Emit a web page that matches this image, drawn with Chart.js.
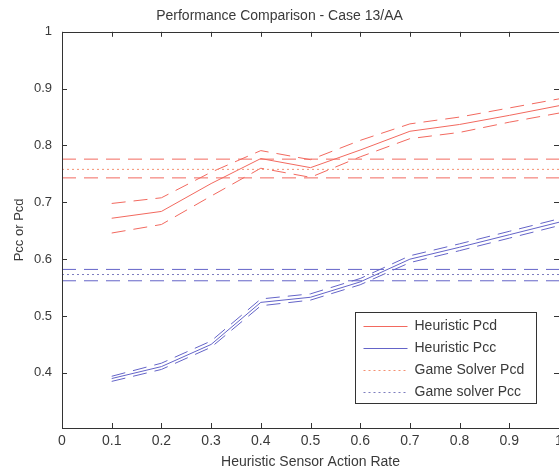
<!DOCTYPE html>
<html>
<head>
<meta charset="utf-8">
<script src="https://cdn.jsdelivr.net/npm/chart.js@4.4.0/dist/chart.umd.min.js"></script>
<style>
  body { margin: 0; background: #fff; overflow: hidden; }
  #wrap { width: 576px; height: 474px; }
</style>
</head>
<body>
<div id="wrap"><canvas id="chart"></canvas></div>
<script>
// DATOS

const rates = [0.1, 0.2, 0.3, 0.4, 0.5, 0.6, 0.7, 0.8, 0.9, 1.0];

const heurPcd      = [0.672, 0.684, 0.733, 0.777, 0.761, 0.792, 0.825, 0.837, 0.853, 0.870];
const heurPcdUpper = [0.698, 0.708, 0.753, 0.791, 0.775, 0.809, 0.838, 0.850, 0.866, 0.882];
const heurPcdLower = [0.646, 0.661, 0.711, 0.760, 0.744, 0.780, 0.812, 0.823, 0.841, 0.857];

const heurPcc      = [0.390, 0.411, 0.450, 0.524, 0.533, 0.560, 0.600, 0.621, 0.643, 0.665];
const heurPccUpper = [0.394, 0.417, 0.456, 0.530, 0.539, 0.566, 0.606, 0.627, 0.649, 0.671];
const heurPccLower = [0.385, 0.406, 0.445, 0.518, 0.528, 0.555, 0.594, 0.615, 0.637, 0.659];

// game solver: [lower, mean, upper]
const gamePcd = [0.743, 0.758, 0.776];
const gamePcc = [0.562, 0.573, 0.582];

const xRange = [0, 1];
const xTicks = [0, 0.1, 0.2, 0.3, 0.4, 0.5, 0.6, 0.7, 0.8, 0.9, 1];
const yTicks = [0.4, 0.5, 0.6, 0.7, 0.8, 0.9, 1];

const legendNames = ['Heuristic Pcd', 'Heuristic Pcc', 'Game Solver Pcd', 'Game solver Pcc'];

const RED = 'rgb(242, 105, 95)';
const BLUE = 'rgb(100, 100, 200)';
const RED_DOT = 'rgb(244, 145, 115)';
const BLUE_DOT = 'rgb(125, 125, 190)';
const TXT = '#3a3a3a';
const FONT = '"Liberation Sans", Arial, sans-serif';

function pts(vals) {
    return rates.map((r, i) => ({ x: r, y: vals[i] }));
}

function hline(v) {
    return xRange.map(x => ({ x: x, y: v }));
}

function ds(data, color, dash) {
    return {
        data: data,
        borderColor: color,
        borderWidth: 1,
        borderDash: dash,
        pointRadius: 0,
        fill: false,
        tension: 0
    };
}

// marcas hacia adentro + caja
const boxTicks = {
    id: 'boxTicks',
    afterDatasetsDraw(chart) {
        const ctx = chart.ctx;
        const a = chart.chartArea;
        const xs = chart.scales.x;
        const ys = chart.scales.y;
        ctx.save();
        ctx.strokeStyle = '#333';
        ctx.lineWidth = 1;
        ctx.setLineDash([]);
        ctx.beginPath();
        xTicks.forEach(t => {
            const px = Math.round(xs.getPixelForValue(t)) + 0.5;
            ctx.moveTo(px, a.bottom); ctx.lineTo(px, a.bottom - 5);
            ctx.moveTo(px, a.top); ctx.lineTo(px, a.top + 5);
        });
        yTicks.forEach(t => {
            const py = Math.round(ys.getPixelForValue(t)) + 0.5;
            ctx.moveTo(a.left, py); ctx.lineTo(a.left + 5, py);
            ctx.moveTo(a.right, py); ctx.lineTo(a.right - 5, py);
        });
        ctx.stroke();
        ctx.strokeRect(Math.round(a.left) + 0.5, Math.round(a.top) + 0.5,
                       Math.round(a.right - a.left), Math.round(a.bottom - a.top));
        ctx.restore();
    }
};

// leyenda dentro del grafico
const boxLegend = {
    id: 'boxLegend',
    afterDraw(chart) {
        const ctx = chart.ctx;
        const a = chart.chartArea;
        const w = 181, h = 91;
        const x0 = Math.round(a.right - 23 - w) + 0.5;
        const y0 = Math.round(a.bottom - 25 - h) + 0.5;
        const colors = [RED, BLUE, RED_DOT, BLUE_DOT];
        const dashes = [[], [], [2, 3], [2, 3]];
        ctx.save();
        ctx.fillStyle = '#fff';
        ctx.fillRect(x0, y0, w, h);
        ctx.strokeStyle = '#333';
        ctx.lineWidth = 1;
        ctx.strokeRect(x0, y0, w, h);
        ctx.font = '14px ' + FONT;
        ctx.textBaseline = 'middle';
        legendNames.forEach((name, i) => {
            const yy = Math.round(y0 + 13 + i * 22) + 0.5;
            ctx.strokeStyle = colors[i];
            ctx.setLineDash(dashes[i]);
            ctx.beginPath();
            ctx.moveTo(x0 + 8, yy);
            ctx.lineTo(x0 + 52, yy);
            ctx.stroke();
            ctx.fillStyle = TXT;
            ctx.fillText(name, x0 + 59, yy);
        });
        ctx.restore();
    }
};

document.addEventListener("DOMContentLoaded", () => {

    const ctx = document.getElementById('chart').getContext('2d');

    new Chart(ctx, {
        type: 'line',
        data: {
            datasets: [
                ds(hline(gamePcd[2]), RED, [14, 8]),
                ds(hline(gamePcd[1]), RED_DOT, [2, 3]),
                ds(hline(gamePcd[0]), RED, [14, 8]),
                ds(hline(gamePcc[2]), BLUE, [14, 8]),
                ds(hline(gamePcc[1]), BLUE_DOT, [2, 3]),
                ds(hline(gamePcc[0]), BLUE, [14, 8]),
                ds(pts(heurPcdUpper), RED, [14, 8]),
                ds(pts(heurPcd), RED, []),
                ds(pts(heurPcdLower), RED, [14, 8]),
                ds(pts(heurPccUpper), BLUE, [14, 8]),
                ds(pts(heurPcc), BLUE, []),
                ds(pts(heurPccLower), BLUE, [14, 8])
            ]
        },
        options: {
            responsive: true,
            maintainAspectRatio: false,
            animation: false,
            layout: { padding: { left: 0, right: 17, top: 0, bottom: 0 } },
            scales: {
                x: {
                    type: 'linear',
                    min: xRange[0],
                    max: xRange[1],
                    afterBuildTicks: s => { s.ticks = xTicks.map(v => ({ value: v })); },
                    afterFit: s => { s.height = 46; },
                    grid: { display: false, drawTicks: false },
                    border: { display: false },
                    ticks: {
                        padding: 5,
                        color: TXT,
                        font: { family: FONT, size: 14 },
                        maxRotation: 0,
                        callback: v => String(+v.toFixed(1))
                    },
                    title: {
                        display: true,
                        text: 'Heuristic Sensor Action Rate',
                        color: TXT,
                        font: { family: FONT, size: 14 },
                        padding: { top: 0, bottom: 3 }
                    }
                },
                y: {
                    min: 0.303,
                    max: 1,
                    afterBuildTicks: s => { s.ticks = yTicks.map(v => ({ value: v })); },
                    afterFit: s => { s.width = 62; },
                    grid: { display: false, drawTicks: false },
                    border: { display: false },
                    ticks: {
                        padding: 10,
                        color: TXT,
                        font: { family: FONT, size: 13 },
                        callback: v => String(+v.toFixed(1))
                    },
                    title: {
                        display: true,
                        text: 'Pcc or Pcd',
                        color: TXT,
                        font: { family: FONT, size: 13 },
                        padding: { top: 12, bottom: 0 }
                    }
                }
            },
            plugins: {
                legend: { display: false },
                tooltip: { enabled: false },
                title: {
                    display: true,
                    text: 'Performance Comparison - Case 13/AA',
                    color: TXT,
                    font: { family: FONT, size: 14, weight: 'normal' },
                    padding: { top: 8, bottom: 7 }
                }
            }
        },
        plugins: [boxTicks, boxLegend]
    });
});
</script>
</body>
</html>
